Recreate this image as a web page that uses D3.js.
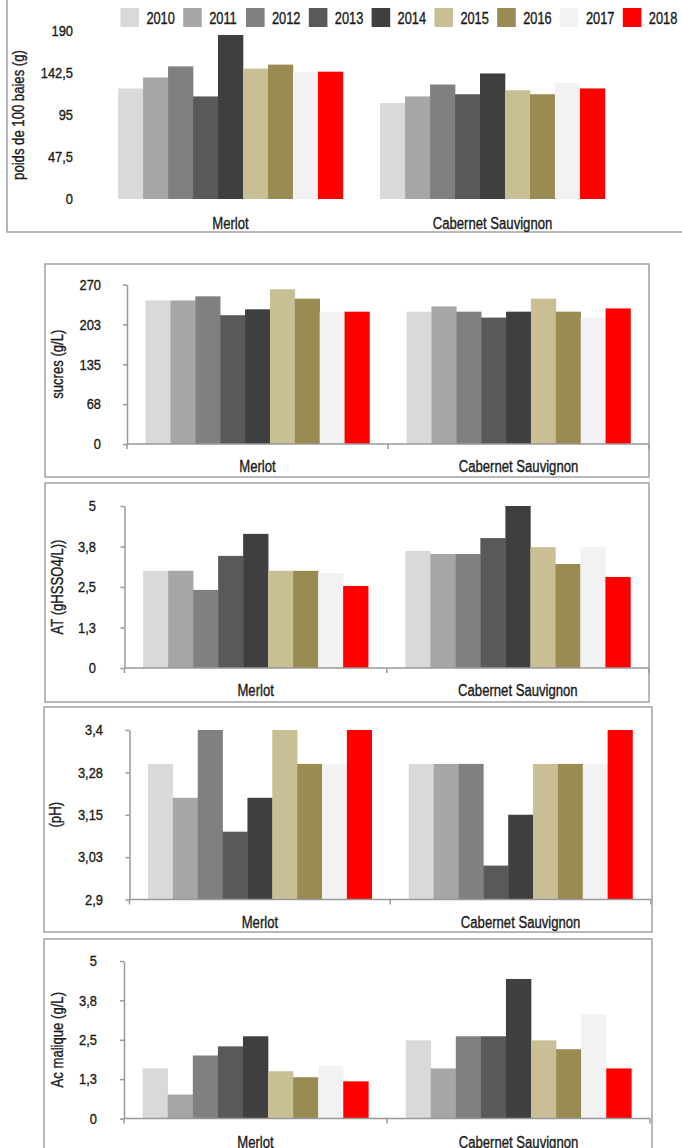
<!DOCTYPE html>
<html>
<head>
<meta charset="utf-8">
<script src="https://cdn.jsdelivr.net/npm/d3@7"></script>
<style>
  body { margin: 0; background: #fff; }
  svg { display: block; font-family: "Liberation Sans", Arial, sans-serif; }
</style>
</head>
<body>
<svg id="chart"></svg>
<script>
const years = ["2010", "2011", "2012", "2013", "2014", "2015", "2016", "2017", "2018"];
const cepages = ["Merlot", "Cabernet Sauvignon"];
const yearColors = ["#d9d9d9", "#a6a6a6", "#808080", "#595959", "#3f3f3f", "#c8bf94", "#9a8b52", "#f2f2f2", "#ff0000"];

// poids de 100 baies (g)
const poidsMerlot = [125, 137.5, 150, 116, 185.5, 147.5, 152, 144, 144];
const poidsCabernet = [108.5, 116, 129.5, 118.5, 142, 123, 118.5, 131, 125];
const poidsTicks = [0, 47.5, 95, 142.5, 190];
const poidsTickLabels = ["0", "47,5", "95", "142,5", "190"];

// sucres (g/L)
const sucresMerlot = [243, 243, 250, 218, 228, 262, 246, 224, 224];
const sucresCabernet = [224, 233, 224, 214, 224, 246, 224, 214, 229.5];
const sucresTicks = [0, 67.5, 135, 202.5, 270];
const sucresTickLabels = ["0", "68", "135", "203", "270"];

// AT
const atMerlot = [3.0, 3.0, 2.41, 3.46, 4.14, 3.0, 3.0, 2.93, 2.53];
const atCabernet = [3.61, 3.52, 3.52, 4.01, 5.0, 3.73, 3.21, 3.73, 2.81];
const atTicks = [0, 1.25, 2.5, 3.75, 5];
const atTickLabels = ["0", "1,3", "2,5", "3,8", "5"];

// pH
const phMerlot = [3.3, 3.2, 3.4, 3.1, 3.2, 3.4, 3.3, 3.3, 3.4];
const phCabernet = [3.3, 3.3, 3.3, 3.0, 3.15, 3.3, 3.3, 3.3, 3.4];
const phTicks = [2.9, 3.025, 3.15, 3.275, 3.4];
const phTickLabels = ["2,9", "3,03", "3,15", "3,28", "3,4"];

// acide malique (g/L)
const maliqueMerlot = [1.59, 0.76, 2.0, 2.29, 2.61, 1.5, 1.31, 1.66, 1.18];
const maliqueCabernet = [2.48, 1.59, 2.61, 2.61, 4.43, 2.48, 2.2, 3.31, 1.59];
const maliqueTicks = [0, 1.25, 2.5, 3.75, 5];
const maliqueTickLabels = ["0", "1,3", "2,5", "3,8", "5"];

const W = 682, H = 1148;
const svg = d3.select("#chart").attr("width", W).attr("height", H);

// layout of each panel (pixels)
const panels = [
  { title: "poids de 100 baies (g)", vals: [poidsMerlot, poidsCabernet], ticks: poidsTicks, labels: poidsTickLabels,
    frame: [7, -5, 720, 232], xr: [99.5, 623.5], yr: [199, 31], axes: false, labelX: 73, titleX: 19, catY: 224 },
  { title: "sucres (g/L)", vals: [sucresMerlot, sucresCabernet], ticks: sucresTicks, labels: sucresTickLabels,
    frame: [45, 264, 649, 477], xr: [127, 649], yr: [444, 284.5], axes: true, labelX: 101, titleX: 58, catY: 467 },
  { title: "AT (gHSSO4/L))", vals: [atMerlot, atCabernet], ticks: atTicks, labels: atTickLabels,
    frame: [45, 483, 649, 702], xr: [124.5, 649], yr: [668, 506], axes: true, labelX: 96, titleX: 58, catY: 691 },
  { title: "(pH)", vals: [phMerlot, phCabernet], ticks: phTicks, labels: phTickLabels,
    frame: [44, 707, 652, 932], xr: [129.5, 651], yr: [899.5, 730], axes: true, labelX: 103, titleX: 56, catY: 923 },
  { title: "Ac malique (g/L)", vals: [maliqueMerlot, maliqueCabernet], ticks: maliqueTicks, labels: maliqueTickLabels,
    frame: [44, 939, 652, 1200], xr: [124, 650], yr: [1118.5, 961], axes: true, labelX: 97, titleX: 58, catY: 1143 }
];

const txt = "#1a1a1a";
const gridCol = "#999";

// condensed text: regular font squeezed horizontally
function label(parent, x, y, s, size, anchor, sx, rot) {
  return parent.append("text")
    .attr("transform", `translate(${x},${y})${rot ? " rotate(" + rot + ")" : ""} scale(${sx},1)`)
    .attr("text-anchor", anchor)
    .attr("dominant-baseline", "central")
    .attr("font-size", size)
    .attr("fill", txt)
    .attr("stroke", txt)
    .attr("stroke-width", 0.35)
    .text(s);
}

panels.forEach(p => {
  const [fx0, fy0, fx1, fy1] = p.frame;
  svg.append("rect")
    .attr("x", fx0).attr("y", fy0)
    .attr("width", fx1 - fx0).attr("height", fy1 - fy0)
    .attr("fill", "none").attr("stroke", "#a0a0a0").attr("stroke-width", 1.5);

  const x = d3.scaleBand().domain(cepages).range(p.xr).paddingInner(0.142).paddingOuter(0.071);
  const xs = d3.scaleBand().domain(years).range([0, x.bandwidth()]);
  const y = d3.scaleLinear().domain([p.ticks[0], p.ticks[p.ticks.length - 1]]).range(p.yr);

  // bars
  cepages.forEach((c, ci) => {
    svg.append("g")
      .attr("transform", `translate(${x(c)},0)`)
      .selectAll("rect")
      .data(p.vals[ci])
      .join("rect")
      .attr("x", (d, i) => xs(years[i]))
      .attr("width", xs.bandwidth() + 0.3)
      .attr("y", d => y(d))
      .attr("height", d => y(p.ticks[0]) - y(d))
      .attr("fill", (d, i) => yearColors[i]);
  });

  // y axis
  if (p.axes) {
    const ya = svg.append("g")
      .attr("transform", `translate(${p.xr[0]},0)`)
      .call(d3.axisLeft(y).tickValues(p.ticks).tickFormat("").tickSize(4).tickSizeOuter(0));
    ya.select(".domain").attr("stroke", gridCol).attr("stroke-width", 1.5);
    ya.selectAll(".tick line").attr("stroke", gridCol).attr("stroke-width", 1.5);
  }
  const tg = svg.append("g");
  p.ticks.forEach((t, i) => label(tg, p.labelX, y(t), p.labels[i], 15, "end", 0.86));

  // x axis with ticks between categories
  if (p.axes) {
    const base = y(p.ticks[0]);
    svg.append("line")
      .attr("x1", p.xr[0]).attr("x2", p.xr[1])
      .attr("y1", base).attr("y2", base)
      .attr("stroke", gridCol).attr("stroke-width", 1.5);
    svg.append("g").selectAll("line")
      .data(d3.range(cepages.length + 1))
      .join("line")
      .attr("x1", i => p.xr[0] + i * x.step())
      .attr("x2", i => p.xr[0] + i * x.step())
      .attr("y1", base).attr("y2", base + 5)
      .attr("stroke", gridCol).attr("stroke-width", 1.5);
  }

  // category labels
  const cg = svg.append("g");
  cepages.forEach(c => label(cg, x(c) + x.bandwidth() / 2, p.catY, c, 16, "middle", 0.82));

  // y title
  label(svg, p.titleX, (p.yr[0] + p.yr[1]) / 2, p.title, 16, "middle", 0.82, -90);
});

// legend (top panel)
const legend = svg.append("g").selectAll("g")
  .data(years)
  .join("g")
  .attr("transform", (d, i) => `translate(${120.4 + i * 62.8},8)`);
legend.append("rect")
  .attr("width", 18.6).attr("height", 19)
  .attr("fill", (d, i) => yearColors[i]);
legend.each(function (d) { label(d3.select(this), 26, 10, d, 16, "start", 0.8); });
</script>
</body>
</html>
